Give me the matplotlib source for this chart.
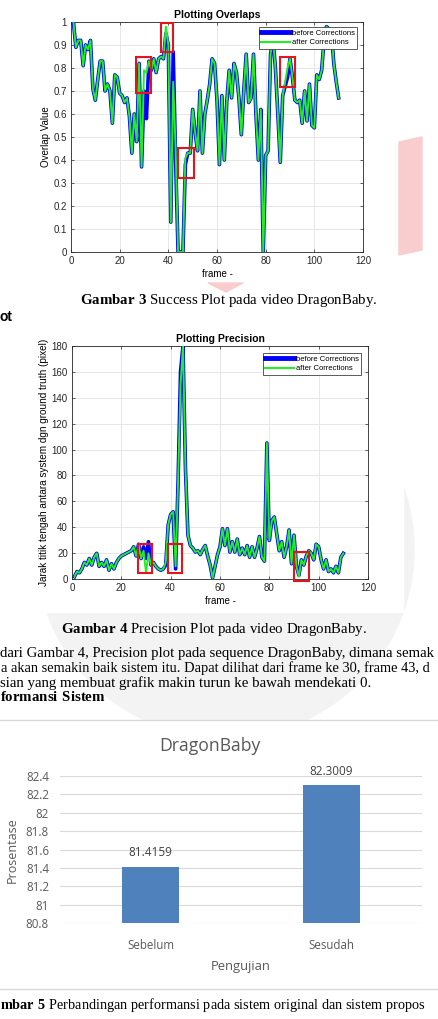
import matplotlib
matplotlib.use("Agg")
import matplotlib.pyplot as plt
from matplotlib.patches import Rectangle, Polygon, Ellipse
from matplotlib.lines import Line2D

W, H = 438, 1019

# ---- data ----
frames = list(range(1, 111))

overlap_before = [
    1.00, 0.89, 0.92, 0.92, 0.81, 0.90, 0.88, 0.92, 0.71, 0.66,
    0.75, 0.83, 0.83, 0.70, 0.73, 0.70, 0.56, 0.77, 0.76, 0.69,
    0.68, 0.65, 0.67, 0.59, 0.43, 0.60, 0.48, 0.82, 0.37, 0.70,
    0.58, 0.83, 0.79, 0.84, 0.78, 0.84, 0.85, 0.84, 0.95, 0.90,
    0.13, 0.87, 0.40, 0.00, 0.00, 0.00, 0.38, 0.43, 0.43, 0.62,
    0.52, 0.44, 0.70, 0.43, 0.60, 0.66, 0.73, 0.84, 0.82, 0.66,
    0.38, 0.68, 0.40, 0.65, 0.79, 0.67, 0.82, 0.78, 0.67, 0.51,
    0.70, 0.86, 0.65, 0.67, 0.86, 0.60, 0.40, 0.62, 0.00, 0.42,
    0.44, 0.86, 0.93, 0.80, 0.60, 0.39, 0.68, 0.72, 0.76, 0.84,
    0.76, 0.66, 0.65, 0.66, 0.56, 0.70, 0.57, 0.73, 0.55, 0.54,
    0.77, 0.75, 0.79, 0.92, 0.98, 0.97, 0.96, 0.82, 0.74, 0.67,
]
overlap_after = [
    1.00, 0.89, 0.92, 0.92, 0.81, 0.90, 0.88, 0.92, 0.71, 0.66,
    0.75, 0.83, 0.83, 0.70, 0.73, 0.70, 0.56, 0.77, 0.76, 0.69,
    0.68, 0.65, 0.67, 0.59, 0.43, 0.60, 0.48, 0.82, 0.37, 0.79,
    0.78, 0.83, 0.79, 0.84, 0.78, 0.84, 0.85, 0.84, 0.98, 0.90,
    0.13, 0.74, 0.45, 0.00, 0.00, 0.00, 0.41, 0.43, 0.43, 0.62,
    0.52, 0.44, 0.70, 0.43, 0.60, 0.66, 0.73, 0.84, 0.82, 0.66,
    0.38, 0.68, 0.40, 0.65, 0.79, 0.67, 0.82, 0.78, 0.67, 0.51,
    0.70, 0.86, 0.65, 0.67, 0.86, 0.60, 0.40, 0.62, 0.00, 0.42,
    0.44, 0.86, 0.93, 0.80, 0.60, 0.39, 0.68, 0.74, 0.80, 0.84,
    0.76, 0.66, 0.65, 0.66, 0.56, 0.70, 0.57, 0.73, 0.55, 0.54,
    0.77, 0.75, 0.79, 0.92, 0.98, 0.97, 0.96, 0.82, 0.74, 0.67,
]

precision_before = [
    2, 6, 5, 8, 13, 11, 16, 11, 17, 20,
    10, 13, 10, 15, 7, 12, 8, 13, 16, 18,
    19, 20, 21, 22, 25, 18, 27, 16, 25, 16,
    29, 11, 13, 10, 8, 7, 8, 11, 42, 50,
    52, 8, 75, 160, 180, 85, 34, 26, 24, 21,
    22, 19, 23, 26, 18, 11, 1, 10, 19, 25,
    39, 26, 39, 21, 29, 21, 31, 19, 24, 19,
    26, 17, 25, 17, 24, 33, 17, 14, 105, 30,
    45, 48, 35, 22, 29, 17, 25, 38, 12, 34,
    10, 3, 15, 11, 18, 22, 20, 15, 27, 25,
    15, 8, 15, 6, 8, 5, 10, 5, 17, 20,
]
precision_after = [
    2, 6, 5, 8, 13, 11, 16, 11, 17, 20,
    10, 13, 10, 15, 7, 12, 8, 13, 16, 18,
    19, 20, 21, 22, 25, 18, 27, 16, 22, 5,
    20, 11, 13, 10, 8, 7, 8, 13, 42, 50,
    52, 10, 75, 150, 180, 85, 34, 26, 24, 21,
    22, 19, 23, 26, 18, 11, 1, 10, 19, 25,
    39, 26, 39, 21, 29, 21, 31, 19, 24, 19,
    26, 17, 25, 17, 24, 33, 17, 14, 105, 30,
    45, 48, 35, 22, 29, 17, 25, 38, 12, 34,
    10, 2, 15, 11, 18, 22, 20, 15, 27, 25,
    15, 8, 15, 6, 8, 5, 10, 5, 17, 20,
]

# red highlight boxes: (x, y, width, height) in data units
overlap_marks = [(26.6, 0.69, 6.1, 0.156), (36.9, 0.871, 4.9, 0.126),
                 (44.1, 0.32, 6.5, 0.131), (85.9, 0.716, 6.3, 0.13)]
precision_marks = [(26.6, 4.6, 6.0, 22.5), (38.8, 4.6, 5.8, 22.5),
                   (90.0, -1.0, 6.0, 22.0)]

series_labels = ['before Corrections', 'after Corrections']
tests = ['Sebelum', 'Sesudah']
scores = [81.4159, 82.3009]

BLUE = '#0000ff'
GREEN = '#22ee22'
RED = '#e3141c'

plt.rcParams['mathtext.fontset'] = 'custom'
plt.rcParams['mathtext.rm'] = 'Liberation Serif'
plt.rcParams['mathtext.bf'] = 'Liberation Serif:bold'


def fx(x):
    return x / W


def fy(y):
    return 1 - y / H


fig = plt.figure(figsize=(W / 100, H / 100), dpi=100)
fig.patch.set_facecolor('white')

# faint watermarks behind the pasted figures
fig.patches.append(Ellipse((fx(225), fy(549)), 2 * 189 / W, 2 * 189 / H,
                           transform=fig.transFigure, color='#f3f3f3', zorder=-3))
fig.patches.append(Rectangle((fx(20), fy(612)), 383 / W, 290 / H,
                             transform=fig.transFigure, color='white', zorder=-2))
fig.patches.append(Rectangle((0, fy(989)), 1, 269 / H,
                             transform=fig.transFigure, color='white', zorder=-2))
fig.patches.append(Polygon([(fx(399), fy(142)), (fx(422), fy(137)),
                            (fx(422), fy(250)), (fx(399), fy(255))],
                           transform=fig.transFigure, color='#f9cdcd', zorder=-2))
fig.patches.append(Polygon([(fx(208), fy(283)), (fx(243), fy(283)), (fx(226), fy(292))],
                           transform=fig.transFigure, color='#f9cdcd', zorder=-2))


def matlab_axes(ax, xs, before, after, marks, title, ylabel, leg_anchor):
    ax.plot(xs, before, color=BLUE, lw=2.6, solid_joinstyle='round', zorder=3)
    ax.plot(xs, after, color=GREEN, lw=1.4, solid_joinstyle='round', zorder=4)
    for x0, y0, w, h in marks:
        ax.add_patch(Rectangle((x0, y0), w, h, fill=False, edgecolor=RED,
                               lw=1.5, zorder=6, clip_on=False))
    ax.set_xlim(0, 120)
    ax.set_xticks(range(0, 121, 20))
    ax.grid(color='#e3e3e3', lw=0.6)
    ax.set_axisbelow(True)
    ax.tick_params(direction='in', top=True, right=True, labelsize=7,
                   length=2.5, width=0.5, colors='#262626', pad=3)
    for s in ax.spines.values():
        s.set_linewidth(0.6)
        s.set_color('#262626')
    ax.set_title(title, fontsize=7.5, fontweight='bold', pad=3, family='Liberation Sans')
    ax.set_xlabel('frame -', fontsize=7, labelpad=2, family='Liberation Sans')
    ax.set_ylabel(ylabel, fontsize=7, labelpad=2, family='Liberation Sans')
    for t in ax.get_xticklabels() + ax.get_yticklabels():
        t.set_family('Liberation Sans')
    handles = [Line2D([], [], color=BLUE, lw=3.5), Line2D([], [], color=GREEN, lw=1.5)]
    leg = ax.legend(handles, series_labels, loc='upper right', bbox_to_anchor=leg_anchor,
                    prop={'family': 'Liberation Sans', 'size': 5.5}, fancybox=False,
                    edgecolor='#404040', framealpha=1, borderpad=0.3, handlelength=3.8,
                    handletextpad=0.2, labelspacing=0.3, borderaxespad=0)
    leg.get_frame().set_linewidth(0.6)
    leg.set_zorder(10)


# ---- Gambar 3: overlaps ----
ax1 = fig.add_axes([fx(71), fy(252), 292 / W, 230 / H])
matlab_axes(ax1, frames, overlap_before, overlap_after, overlap_marks,
            'Plotting Overlaps', 'Overlap Value', (0.979, 0.978))
ax1.set_ylim(0, 1)
ax1.set_yticks([i / 10 for i in range(11)])
ax1.set_yticklabels(['0'] + ['0.%d' % i for i in range(1, 10)] + ['1'])

# ---- Gambar 4: precision ----
ax2 = fig.add_axes([fx(72), fy(579.3), 296 / W, 233.6 / H])
matlab_axes(ax2, frames, precision_before, precision_after, precision_marks,
            'Plotting Precision',
            'Jarak titik tengah antara system dgn ground truth (pixel)', (0.976, 0.969))
ax2.set_ylim(0, 180)
ax2.set_yticks(range(0, 181, 20))
ax2.yaxis.label.set_size(7.2)

# ---- Gambar 5: bar chart (Excel style) ----
ax3 = fig.add_axes([fx(60), fy(923.3), 362 / W, 147.3 / H])
xpos = list(range(len(tests)))
ax3.bar(xpos, scores, width=0.315, color='#4f81bd', zorder=3)
ax3.set_xlim(-0.5, 1.5)
ax3.set_ylim(80.8, 82.4)
yt = [80.8, 81.0, 81.2, 81.4, 81.6, 81.8, 82.0, 82.2, 82.4]
ax3.set_yticks(yt)
ax3.set_yticklabels(['%g' % v for v in yt])
ax3.set_xticks(xpos)
ax3.set_xticklabels(tests)
ax3.yaxis.grid(True, color='#d9d9d9', lw=0.8)
ax3.set_axisbelow(True)
for s in ax3.spines.values():
    s.set_visible(False)
ax3.tick_params(length=0, labelsize=8.3, colors='#595959')
ax3.tick_params(axis='y', pad=8)
ax3.tick_params(axis='x', pad=11)
for t in ax3.get_xticklabels() + ax3.get_yticklabels():
    t.set_family('Open Sans')
for i, v in enumerate(scores):
    ax3.annotate('%.4f' % v, (i, v), xytext=(0, 9.8), textcoords='offset points',
                 ha='center', va='center', fontsize=8.5, color='#404040', family='Open Sans')
ax3.set_xlabel('Pengujian', fontsize=9.4, color='#595959', family='Open Sans', labelpad=6)
fig.text(fx(12), fy(850), 'Prosentase', rotation=90, ha='center', va='center',
         fontsize=9, color='#595959', family='Open Sans')
fig.text(fx(210), fy(746), 'DragonBaby', ha='center', va='center',
         fontsize=12.7, color='#595959', family='Open Sans')

# chart frame edges
for yy in (720, 989):
    fig.add_artist(Line2D([0, 1], [fy(yy), fy(yy)], transform=fig.transFigure,
                          color='#d9d9d9', lw=1))

# ---- page text (cropped page, so lines stop at the edges) ----
serif = dict(family='Liberation Serif', color='black', va='center')
fig.text(fx(228.5), fy(301), r'$\mathbf{Gambar\ 3}$ Success Plot pada video DragonBaby.',
         ha='center', fontsize=10.7, **serif)
fig.text(fx(0), fy(317), 'ot', ha='left', family='Liberation Sans', fontsize=10,
         fontweight='bold', va='center')
fig.text(fx(214), fy(630), r'$\mathbf{Gambar\ 4}$ Precision Plot pada video DragonBaby.',
         ha='center', fontsize=10.7, **serif)
fig.text(fx(0), fy(653), 'dari Gambar 4, Precision plot pada sequence DragonBaby, dimana semak',
         ha='left', fontsize=10.6, **serif)
fig.text(fx(1), fy(668), 'a akan semakin baik sistem itu. Dapat dilihat dari frame ke 30, frame 43, d',
         ha='left', fontsize=10.4, **serif)
fig.text(fx(0), fy(683), 'sian yang membuat grafik makin turun ke bawah mendekati 0.',
         ha='left', fontsize=10.7, **serif)
fig.text(fx(0), fy(697), r'$\mathbf{formansi\ Sistem}$', ha='left', fontsize=10.7, **serif)
fig.text(fx(0), fy(1005),
         r'$\mathbf{mbar\ 5}$ Perbandingan performansi pada sistem original dan sistem propos',
         ha='left', fontsize=10.3, **serif)

fig.savefig('out.png', dpi=100, facecolor='white')
